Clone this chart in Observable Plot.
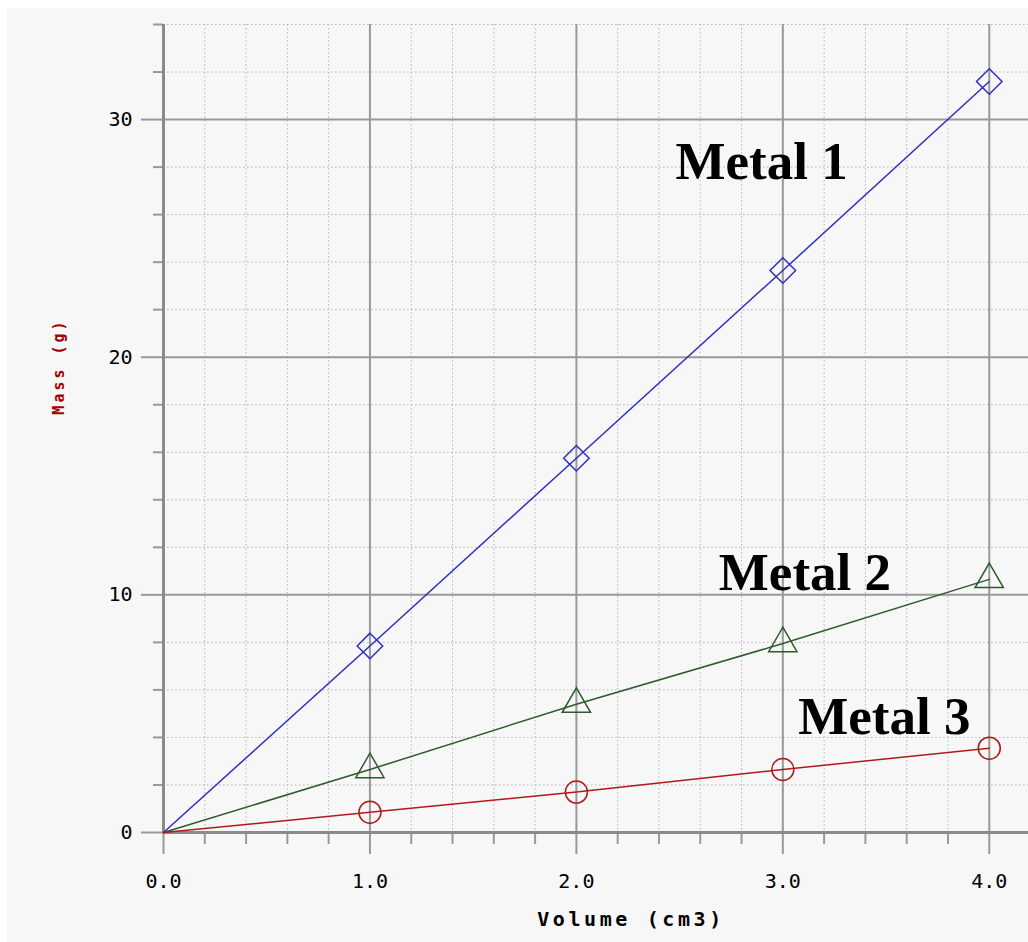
<!DOCTYPE html>
<html><head><meta charset="utf-8">
<script src="https://cdn.jsdelivr.net/npm/d3@7"></script>
<script src="https://cdn.jsdelivr.net/npm/@observablehq/plot@0.6"></script>
<style>
html,body{margin:0;padding:0;background:#fff;}
#chart{position:absolute;left:7px;top:8px;width:1021px;height:934px;background:#f7f7f7;}
#chart svg{display:block;}
</style></head><body><div id="chart"></div>
<script>
const volume = [0, 1, 2, 3, 4];
const metal1 = [0, 7.85, 15.75, 23.65, 31.6];
const metal2 = [0, 2.65, 5.4, 7.95, 10.65];
const metal3 = [0, 0.85, 1.7, 2.65, 3.55];
const seriesNames = ["Metal 1", "Metal 2", "Metal 3"];
const seriesColors = ["#2f2fc0", "#2e5a2e", "#b01a1a"];
const seriesSymbols = ["diamond2", "triangle", "circle"];
const majorX = [0, 1, 2, 3, 4];
const minorX = [0.2, 0.4, 0.6, 0.8, 1.2, 1.4, 1.6, 1.8, 2.2, 2.4, 2.6, 2.8, 3.2, 3.4, 3.6, 3.8];
const majorY = [0, 10, 20, 30];
const minorY = [2, 4, 6, 8, 12, 14, 16, 18, 22, 24, 26, 28, 32, 34];
const xTickLabels = ["0.0", "1.0", "2.0", "3.0", "4.0"];
const yTickLabels = ["0", "10", "20", "30"];
const xTitle = "Volume (cm3)";
const yTitle = "Mass (g)";

const values = [metal1, metal2, metal3];
const rows = [];
seriesNames.forEach((name, s) => {
  volume.forEach((v, i) => rows.push({series: name, s, volume: v, mass: values[s][i]}));
});
const markerRows = rows.filter(d => d.volume > 0);
const labelPos = [
  {name: "Metal 1", x: 2.48, y: 27.5},
  {name: "Metal 2", x: 2.69, y: 10.2},
  {name: "Metal 3", x: 3.075, y: 4.15}
];

const gridGray = "#999";
const chart = Plot.plot({
  width: 1021,
  height: 934,
  marginLeft: 156,
  marginRight: 0,
  marginTop: 16,
  marginBottom: 110,
  style: {fontFamily: "DejaVu Sans Mono", fontSize: "20px", background: "#f7f7f7", color: "#000"},
  x: {domain: [0, 4.19]},
  y: {domain: [0, 34]},
  marks: [
    Plot.gridX(minorX, {stroke: "#b4b4b4", strokeOpacity: 1, strokeDasharray: "1.5,2.5", strokeWidth: 1}),
    Plot.gridY(minorY, {stroke: "#b4b4b4", strokeOpacity: 1, strokeDasharray: "1.5,2.5", strokeWidth: 1}),
    Plot.gridX(majorX, {stroke: gridGray, strokeOpacity: 1, strokeWidth: 2}),
    Plot.gridY(majorY, {stroke: gridGray, strokeOpacity: 1, strokeWidth: 2}),
    Plot.axisX(minorX, {tickSize: 12, stroke: gridGray, strokeWidth: 2, tickFormat: () => "", label: null}),
    Plot.axisY(minorY, {tickSize: 10, stroke: gridGray, strokeWidth: 2, tickFormat: () => "", label: null}),
    Plot.axisX(majorX, {tickSize: 22, tickPadding: 19, stroke: gridGray, strokeWidth: 2,
      tickFormat: d => xTickLabels[majorX.indexOf(d)], label: null}),
    Plot.axisY(majorY, {tickSize: 22, tickPadding: 9, stroke: gridGray, strokeWidth: 2,
      tickFormat: d => yTickLabels[majorY.indexOf(d)], label: null}),
    Plot.ruleX([0], {stroke: "#8a8a8a", strokeWidth: 3}),
    Plot.ruleY([0], {stroke: "#8a8a8a", strokeWidth: 3}),
    Plot.line(rows, {x: "volume", y: "mass", z: "series", stroke: d => seriesColors[d.s], strokeWidth: 1.5}),
    Plot.dot(markerRows.filter(d => d.s === 0), {x: "volume", y: "mass", symbol: seriesSymbols[0], r: 11.5, stroke: seriesColors[0], strokeWidth: 1.5, fill: "none"}),
    Plot.dot(markerRows.filter(d => d.s === 1), {x: "volume", y: "mass", symbol: seriesSymbols[1], r: 10.5, stroke: seriesColors[1], strokeWidth: 1.5, fill: "none"}),
    Plot.dot(markerRows.filter(d => d.s === 2), {x: "volume", y: "mass", symbol: seriesSymbols[2], r: 11, stroke: seriesColors[2], strokeWidth: 1.5, fill: "none"}),
    Plot.text(labelPos, {x: "x", y: "y", text: "name", textAnchor: "start", lineAnchor: "bottom",
      fontFamily: "Liberation Serif", fontWeight: "bold", fontSize: 53, fill: "#000"}),
    Plot.text([xTitle], {frameAnchor: "bottom", textAnchor: "middle", dx: 35, dy: 93, lineAnchor: "bottom", fontWeight: "bold", fontSize: 20, fill: "#000"}),
    Plot.text([yTitle], {frameAnchor: "left", textAnchor: "middle", dx: -104, dy: -62, rotate: -90, lineAnchor: "middle", fontWeight: "bold", fontSize: 15, fill: "#a00000"})
  ]
});
d3.select(chart).selectAll("text").each(function() {
  const t = this.textContent;
  if (t === xTitle) d3.select(this).attr("letter-spacing", "3.6px");
  if (t === yTitle) d3.select(this).attr("letter-spacing", "3px");
});
document.getElementById("chart").appendChild(chart);
</script>
</body></html>
